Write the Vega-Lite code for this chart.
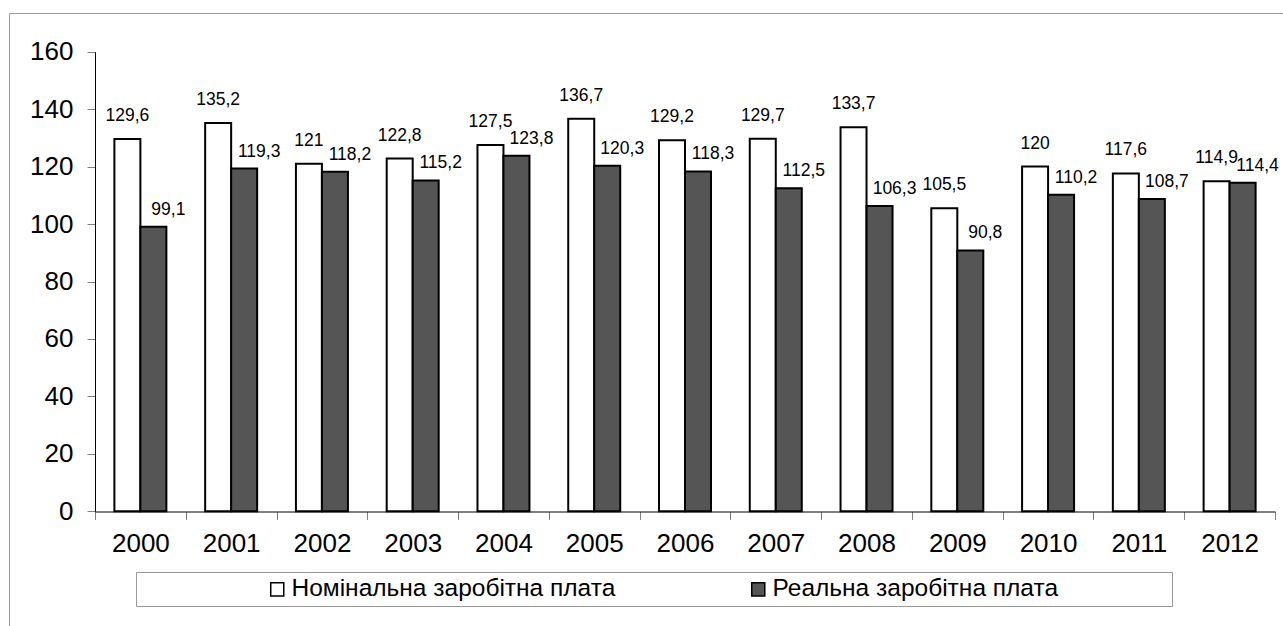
{
  "$schema": "https://vega.github.io/schema/vega-lite/v6.json",
  "width": 1290,
  "height": 630,
  "autosize": {"type": "none"},
  "padding": {"left": 9, "top": 13, "right": 0, "bottom": 0},
  "background": "white",
  "config": {
    "view": {"stroke": "#9a9a9a", "strokeWidth": 1},
    "font": "Liberation Sans",
    "locale": {"number": {"decimal": ",", "thousands": " ", "grouping": [3], "currency": ["", ""]}}
  },
  "data": {"values": [
    {"year": "2000", "series": "Номінальна заробітна плата", "value": 129.6},
    {"year": "2001", "series": "Номінальна заробітна плата", "value": 135.2},
    {"year": "2002", "series": "Номінальна заробітна плата", "value": 121},
    {"year": "2003", "series": "Номінальна заробітна плата", "value": 122.8},
    {"year": "2004", "series": "Номінальна заробітна плата", "value": 127.5},
    {"year": "2005", "series": "Номінальна заробітна плата", "value": 136.7},
    {"year": "2006", "series": "Номінальна заробітна плата", "value": 129.2},
    {"year": "2007", "series": "Номінальна заробітна плата", "value": 129.7},
    {"year": "2008", "series": "Номінальна заробітна плата", "value": 133.7},
    {"year": "2009", "series": "Номінальна заробітна плата", "value": 105.5},
    {"year": "2010", "series": "Номінальна заробітна плата", "value": 120},
    {"year": "2011", "series": "Номінальна заробітна плата", "value": 117.6},
    {"year": "2012", "series": "Номінальна заробітна плата", "value": 114.9},
    {"year": "2000", "series": "Реальна заробітна плата", "value": 99.1},
    {"year": "2001", "series": "Реальна заробітна плата", "value": 119.3},
    {"year": "2002", "series": "Реальна заробітна плата", "value": 118.2},
    {"year": "2003", "series": "Реальна заробітна плата", "value": 115.2},
    {"year": "2004", "series": "Реальна заробітна плата", "value": 123.8},
    {"year": "2005", "series": "Реальна заробітна плата", "value": 120.3},
    {"year": "2006", "series": "Реальна заробітна плата", "value": 118.3},
    {"year": "2007", "series": "Реальна заробітна плата", "value": 112.5},
    {"year": "2008", "series": "Реальна заробітна плата", "value": 106.3},
    {"year": "2009", "series": "Реальна заробітна плата", "value": 90.8},
    {"year": "2010", "series": "Реальна заробітна плата", "value": 110.2},
    {"year": "2011", "series": "Реальна заробітна плата", "value": 108.7},
    {"year": "2012", "series": "Реальна заробітна плата", "value": 114.4}
  ]},
  "encoding": {
    "x": {
      "field": "year", "type": "nominal",
      "scale": {"range": [86, 1266], "paddingInner": 0, "paddingOuter": 0},
      "axis": {
        "title": null, "orient": "bottom", "offset": -131.5, "labelAngle": 0,
        "labelFontSize": 26, "labelColor": "black", "labelPadding": 11,
        "tickBand": "extent", "tickSize": 8, "tickColor": "#808080",
        "domainColor": "black", "domainWidth": 1, "grid": false
      }
    },
    "xOffset": {
      "field": "series", "type": "nominal",
      "scale": {"domain": ["Номінальна заробітна плата", "Реальна заробітна плата"], "paddingInner": 0, "paddingOuter": 0.746}
    },
    "y": {
      "field": "value", "type": "quantitative",
      "scale": {"domain": [0, 160], "range": [498.3, 38.7], "nice": false, "zero": true},
      "axis": {
        "title": null, "orient": "left", "offset": -86, "values": [0, 20, 40, 60, 80, 100, 120, 140, 160],
        "labelFontSize": 26, "labelColor": "black", "labelPadding": 14,
        "tickSize": 8, "tickColor": "#808080", "domainColor": "black", "domainWidth": 1, "grid": false
      }
    }
  },
  "layer": [
    {
      "mark": {"type": "bar", "stroke": "black", "strokeWidth": 2},
      "encoding": {
        "fill": {
          "field": "series", "type": "nominal",
          "scale": {"domain": ["Номінальна заробітна плата", "Реальна заробітна плата"], "range": ["#ffffff", "#555555"]},
          "legend": {
            "orient": "none", "legendX": 127, "legendY": 559, "direction": "horizontal",
            "title": "\u00a0", "titleOrient": "left", "titlePadding": 124, "titleFontSize": 21,
            "labelFontSize": 24.5, "labelColor": "black", "labelLimit": 2000, "labelOffset": 2,
            "symbolType": "square", "symbolSize": 170, "symbolStrokeColor": "black", "symbolStrokeWidth": 1.5,
            "columnPadding": 22, "strokeColor": "#999999", "padding": 5,
            "labelExpr": "datum.label + '\u2800\u2800\u2800\u2800\u2800\u2800'"
          }
        }
      }
    },
    {
      "transform": [{"filter": "datum.series == 'Номінальна заробітна плата'"}],
      "mark": {"type": "text", "baseline": "bottom", "dy": -14, "fontSize": 17.5, "color": "black"},
      "encoding": {"text": {"field": "value", "type": "quantitative", "format": "~f"}}
    },
    {
      "transform": [{"filter": "datum.series == 'Реальна заробітна плата'"}],
      "mark": {"type": "text", "baseline": "bottom", "dy": -8, "dx": 15, "fontSize": 17.5, "color": "black"},
      "encoding": {"text": {"field": "value", "type": "quantitative", "format": "~f"}}
    }
  ]
}
